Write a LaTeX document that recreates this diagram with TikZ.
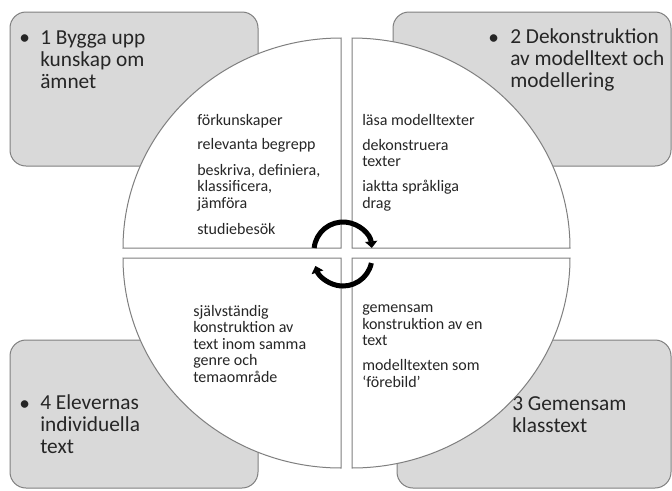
\documentclass[tikz,border=0pt]{standalone}
\usepackage{fontspec}
\setmainfont{Carlito}
\usetikzlibrary{arrows.meta}

\definecolor{boxgray}{HTML}{D9D9D9}
\definecolor{edgegray}{HTML}{7F7F7F}
\definecolor{inkgray}{HTML}{262626}

\begin{document}
\begin{tikzpicture}[x=0.75pt, y=-0.75pt,
  topic/.style={draw=edgegray, fill=boxgray, line width=0.75pt, rounded corners=12pt},
  quarter/.style={draw=edgegray, fill=white, line width=0.75pt},
  topictext/.style={anchor=base west, inner sep=0pt, align=left, text=inkgray, font=\fontsize{16}{16.3}\selectfont},
  phasetext/.style={anchor=base west, inner sep=0pt, align=left, text=inkgray, font=\fontsize{12}{12.3}\selectfont},
  turn/.style={line width=3.75pt, -{Triangle[length=5pt, width=9pt]}}]
\useasboundingbox (0,0) rectangle (672,490);

% the four phase boxes (text nodes sit on the baseline of their last line)
\path[topic] (10,12) rectangle (258,166);
\path[topic] (393,12) rectangle (671,166);
\path[topic] (397,340) rectangle (671,488);
\path[topic] (10,340) rectangle (258,488);

\node[topictext] (dot1) at (19,44) {\textbullet};
\node[topictext] (bygga) at (40,88) {1 Bygga upp\\kunskap om\\ämnet};
\node[topictext] (dot2) at (488,44) {\textbullet};
\node[topictext] (dekon) at (510,87) {2 Dekonstruktion\\av modelltext och\\modellering};
\node[topictext] (gemensam) at (512,432) {3 Gemensam\\klasstext};
\node[topictext] (dot4) at (19,410) {\textbullet};
\node[topictext] (elever) at (40,453) {4 Elevernas\\individuella\\text};

% the circle in four quarters
\path[quarter] (341,248) -- (123,248) arc[start angle=180, end angle=270, x radius=218, y radius=210] -- cycle;
\path[quarter] (352,248) -- (352,38) arc[start angle=270, end angle=360, x radius=218, y radius=210] -- cycle;
\path[quarter] (352,258) -- (570,258) arc[start angle=0, end angle=90, x radius=218, y radius=210] -- cycle;
\path[quarter] (341,258) -- (341,468) arc[start angle=90, end angle=180, x radius=218, y radius=210] -- cycle;

\node[phasetext] (forkunskap) at (197,234) {förkunskaper\\[6pt]relevanta begrepp\\[7pt]beskriva, definiera,\\klassificera,\\jämföra\\[7pt]studiebesök};
\node[phasetext] (lasa) at (362,208) {läsa modelltexter\\[6.5pt]dekonstruera\\texter\\[6.5pt]iaktta språkliga\\drag};
\node[phasetext] (konstr) at (362,387) {gemensam\\konstruktion av en\\text\\[6.5pt]modelltexten som\\`förebild'};
\node[phasetext] (sjalv) at (193,382) {självständig\\konstruktion av\\text inom samma\\genre och\\temaområde};

% cycle arrows
\coordinate (upper) at (343,251);
\coordinate (lower) at (343,257);
\draw[turn] (upper) ++(186:29) arc[start angle=186, end angle=354, radius=29];
\draw[turn] (lower) ++(12:29) arc[start angle=12, end angle=162, radius=29];
\end{tikzpicture}
\end{document}
